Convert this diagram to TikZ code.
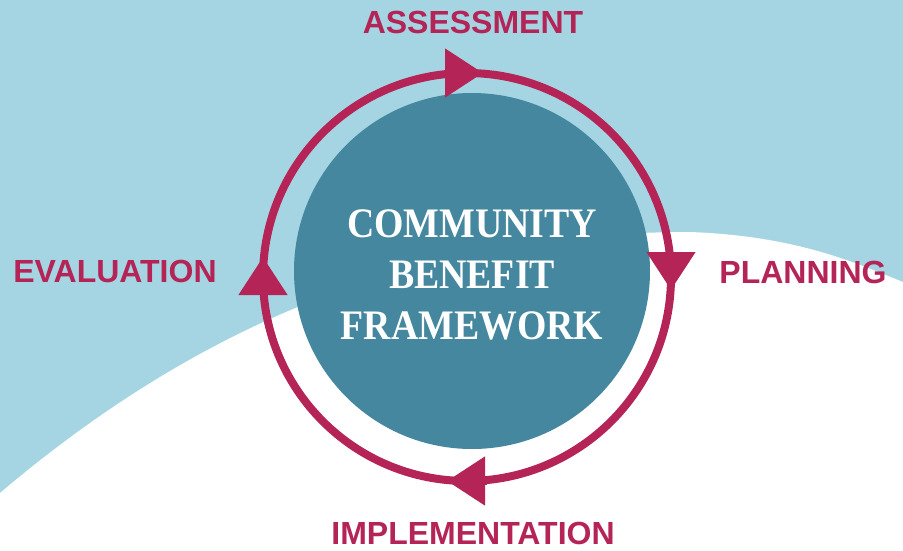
\documentclass[tikz,border=0pt]{standalone}
\usepackage{fontspec}
\setmainfont{Liberation Sans}
\newfontfamily\titlefont[FakeStretch=0.9]{Liberation Serif}
\usetikzlibrary{arrows.meta}

\definecolor{skyblue}{HTML}{A5D5E2}
\definecolor{cbfteal}{HTML}{44879E}
\definecolor{cbfred}{HTML}{B52456}

\tikzset{
	ring/.style={draw=cbfred, line width=8pt},
	cyclearrow/.style={cbfred, line width=8pt, -{Triangle[width=47pt, length=38pt]}},
	stage/.style={text=cbfred, inner sep=0pt, font=\fontsize{32}{32}\selectfont\bfseries},
}

\begin{document}
\begin{tikzpicture}[x=1pt, y=-1pt]
		\useasboundingbox (0,0) rectangle (903,550);
		\fill[skyblue] (0,0) rectangle (903,550);
		\fill[white] (0,493) .. controls (210,315) and (430,232) .. (690,232)
			.. controls (800,236) and (860,265) .. (903,282) -- (903,550) -- (0,550) -- cycle;
		% centre disc and cycle ring
		\fill[cbfteal] (472,271) circle[radius=178];
		\draw[ring] (467,277) circle[radius=204];
		\draw[cyclearrow] (445,73) -- (483,73);
		\draw[cyclearrow] (671,255) -- (671,290);
		\draw[cyclearrow] (487,481) -- (447,481);
		\draw[cyclearrow] (263,293) -- (263,257);
		\node[text=white, align=center, inner sep=0pt, font=\titlefont\fontsize{42}{51}\selectfont\bfseries] (framework) at (472,275) {COMMUNITY\\BENEFIT\\FRAMEWORK};
		\node[stage] (assess) at (473,22) {ASSESSMENT};
		\node[stage] (plan) at (803,272) {PLANNING};
		\node[stage] (implement) at (473,533) {IMPLEMENTATION};
		\node[stage] (evaluate) at (115,271) {EVALUATION};
	\end{tikzpicture}
\end{document}
